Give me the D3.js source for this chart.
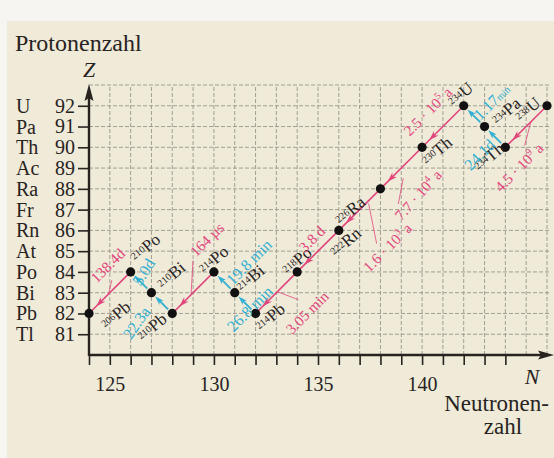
<!DOCTYPE html>
<html>
<head>
<meta charset="utf-8">
<script src="https://cdn.jsdelivr.net/npm/d3@7"></script>
<style>
body { margin: 0; background: #f6f5f1; }
svg { display: block; font-family: "Liberation Serif", "DejaVu Serif", serif; }
</style>
</head>
<body>
<svg id="chart"></svg>
<script>
var width = 554;
var height = 458;

// axis labels
var elementSymbols = ["Tl", "Pb", "Bi", "Po", "At", "Rn", "Fr", "Ra", "Ac", "Th", "Pa", "U"];
var protonTicks = [81, 82, 83, 84, 85, 86, 87, 88, 89, 90, 91, 92];
var neutronTicks = [125, 130, 135, 140];

// Uranium-Radium series, in decay order
var nuclideSymbol = ["U", "Th", "Pa", "U", "Th", "Ra", "Rn", "Po", "Pb", "Bi", "Po", "Pb", "Bi", "Po", "Pb"];
var massNumber   = [238, 234, 234, 234, 230, 226, 222, 218, 214, 214, 214, 210, 210, 210, 206];
var protonNumber = [92, 90, 91, 92, 90, 88, 86, 84, 82, 83, 84, 82, 83, 84, 82];

// decay i goes from nuclide i to nuclide i+1
var decayMode = ["a", "b", "b", "a", "a", "a", "a", "a", "b", "b", "a", "b", "b", "a"];
var halfLife = ["4.5 · 10^9 a", "24.1d", "1.17|min", "2.5 · 10^5 a", "7.7 · 10^4 a", "1.6 · 10^3 a",
                "3.8 d", "3.05 min", "26.8 min", "19.8 min", "164 µs", "22.3a", "5.0d", "138.4d"];

// label placement (pixels, relative to the anchor)
var nuclideLabelOffset = [[-19, 4], [-16, 10], [22, -15], [-3, -11], [15, 4], [-30, 22], [7, 12], [0, -11],
                          [15, 4], [16, -14], [0, -12], [-20, 14], [20, -17], [15, -24], [27, 2]];
var decayLabelLayout = [[-7, 41, -45], [-15, 18, -45], [18, -14, -45], [-15, -15, -45], [17, 27, -48],
                        [28, 38, -45], [-6, -12, -45], [31, 20, -45], [5, 6, -45], [25, -20, -45],
                        [14, -53, -45], [-25, 20, -55], [3, -10, -58], [-2, -27, -45]];
var decayLeader = [[4.5, -4, -1.5, 19], null, null, null, [2, 10, -3, 36], [9, -6, 17, 34], null,
                   [1, -1, 22, 7], null, null, [0, -32, -2, 1], null, null, [2, -12.5, -1, 0]];

var pink = "#e2457c";
var cyan = "#32afd2";
var ink = "#28231f";

var svg = d3.select("#chart")
	.attr("width", width)
	.attr("height", height);

svg.append("rect")
	.attr("x", 7).attr("y", 21)
	.attr("width", width - 7).attr("height", height - 21)
	.attr("fill", "#efebd8");

var xScale = d3.scaleLinear()
	.domain([124, 146])
	.range([89, 547]);
var yScale = d3.scaleLinear()
	.domain([80, 93])
	.range([355, 85]);

// dashed grid
var grid = svg.append("g")
	.attr("stroke", "#9a968b")
	.attr("stroke-width", 0.9)
	.attr("stroke-dasharray", "4,2");
grid.selectAll("line.v")
	.data(d3.range(125, 147))
	.enter().append("line")
		.attr("class", "v")
		.attr("x1", d => xScale(d)).attr("x2", d => xScale(d))
		.attr("y1", yScale(80)).attr("y2", yScale(93));
grid.selectAll("line.h")
	.data(d3.range(81, 94))
	.enter().append("line")
		.attr("class", "h")
		.attr("x1", xScale(124)).attr("x2", xScale(146) + 2)
		.attr("y1", d => yScale(d)).attr("y2", d => yScale(d));

// axes
var xAxis = d3.axisBottom(xScale)
	.tickValues(d3.range(124, 145))
	.tickSize(10)
	.tickPadding(12)
	.tickFormat(d => neutronTicks.indexOf(d) >= 0 ? d : "");
var yAxis = d3.axisLeft(yScale)
	.tickValues(protonTicks)
	.tickSize(11)
	.tickPadding(3);

var gx = svg.append("g")
	.attr("transform", "translate(0," + yScale(80) + ")")
	.call(xAxis);
var gy = svg.append("g")
	.attr("transform", "translate(" + xScale(124) + ",0)")
	.call(yAxis);
[gx, gy].forEach(function(g) {
	g.select(".domain").remove();
	g.selectAll(".tick line").attr("stroke", ink).attr("stroke-width", 1.6);
	g.selectAll(".tick text")
		.attr("fill", ink)
		.style("font-family", "Liberation Serif")
		.style("font-size", "20px");
});

svg.selectAll("text.elem")
	.data(protonTicks)
	.enter().append("text")
		.attr("class", "elem")
		.attr("x", 16)
		.attr("y", d => yScale(d))
		.attr("dy", "0.35em")
		.attr("fill", ink)
		.style("font-size", "20px")
		.text((d, i) => elementSymbols[i]);

// axis lines with arrow heads
svg.append("line")
	.attr("x1", xScale(124)).attr("x2", 545)
	.attr("y1", yScale(80)).attr("y2", yScale(80))
	.attr("stroke", ink).attr("stroke-width", 2.4);
svg.append("path")
	.attr("d", "M554," + yScale(80) + "L538," + (yScale(80) - 4.5) + "L541," + yScale(80) + "L538," + (yScale(80) + 4.5) + "Z")
	.attr("fill", ink);
svg.append("line")
	.attr("x1", xScale(124)).attr("x2", xScale(124))
	.attr("y1", yScale(80) + 1).attr("y2", 95)
	.attr("stroke", ink).attr("stroke-width", 2.4);
svg.append("path")
	.attr("d", "M" + xScale(124) + ",84L" + (xScale(124) - 4.5) + ",101L" + xScale(124) + ",98L" + (xScale(124) + 4.5) + ",101Z")
	.attr("fill", ink);

svg.append("text")
	.attr("x", 15).attr("y", 51)
	.attr("fill", ink)
	.style("font-size", "24px")
	.text("Protonenzahl");
svg.append("text")
	.attr("x", xScale(124)).attr("y", 77)
	.attr("text-anchor", "middle")
	.attr("fill", ink)
	.style("font-size", "22px").style("font-style", "italic")
	.text("Z");
svg.append("text")
	.attr("x", 532).attr("y", 384)
	.attr("text-anchor", "middle")
	.attr("fill", ink)
	.style("font-size", "22px").style("font-style", "italic")
	.text("N");
svg.append("text")
	.attr("x", 549).attr("y", 411)
	.attr("text-anchor", "end")
	.attr("fill", ink)
	.style("font-size", "23px")
	.text("Neutronen-");
svg.append("text")
	.attr("x", 503).attr("y", 434)
	.attr("text-anchor", "middle")
	.attr("fill", ink)
	.style("font-size", "23px")
	.text("zahl");

// nuclide positions
var nuclides = nuclideSymbol.map(function(s, i) {
	return {
		sym: s,
		A: massNumber[i],
		Z: protonNumber[i],
		N: massNumber[i] - protonNumber[i],
		x: xScale(massNumber[i] - protonNumber[i]),
		y: yScale(protonNumber[i]),
		i: i
	};
});

var decays = decayMode.map(function(m, i) {
	return { mode: m, from: nuclides[i], to: nuclides[i + 1], t: halfLife[i], i: i };
});

function head(g, tx, ty, ux, uy, len, w, color) {
	var bx = tx - ux * len, by = ty - uy * len;
	g.append("path")
		.attr("d", "M" + tx + "," + ty +
			"L" + (bx - uy * w) + "," + (by + ux * w) +
			"L" + (tx - ux * len * 0.7) + "," + (ty - uy * len * 0.7) +
			"L" + (bx + uy * w) + "," + (by - ux * w) + "Z")
		.attr("fill", color);
}

var marks = svg.append("g");
decays.forEach(function(d) {
	var dx = d.to.x - d.from.x, dy = d.to.y - d.from.y;
	var len = Math.sqrt(dx * dx + dy * dy);
	var ux = dx / len, uy = dy / len;
	if (d.mode === "a") {
		marks.append("line")
			.attr("x1", d.from.x).attr("y1", d.from.y)
			.attr("x2", d.to.x).attr("y2", d.to.y)
			.attr("stroke", pink).attr("stroke-width", 1.6);
		head(marks, d.to.x - ux * 10, d.to.y - uy * 10, ux, uy, 10, 3.2, pink);
	} else {
		var sx = d.from.x + dx * 0.2, sy = d.from.y + dy * 0.2;
		var ex = d.from.x + dx * 0.82, ey = d.from.y + dy * 0.82;
		marks.append("line")
			.attr("x1", sx).attr("y1", sy)
			.attr("x2", ex - ux * 4).attr("y2", ey - uy * 4)
			.attr("stroke", cyan).attr("stroke-width", 1.8);
		head(marks, ex, ey, ux, uy, 9, 3, cyan);
	}
	var lead = decayLeader[d.i];
	if (lead) {
		var mx = (d.from.x + d.to.x) / 2, my = (d.from.y + d.to.y) / 2;
		marks.append("line")
			.attr("x1", mx + lead[0]).attr("y1", my + lead[1])
			.attr("x2", mx + lead[2]).attr("y2", my + lead[3])
			.attr("stroke", pink).attr("stroke-width", 0.8);
	}
});

svg.selectAll("circle.nuc")
	.data(nuclides)
	.enter().append("circle")
		.attr("class", "nuc")
		.attr("cx", d => d.x)
		.attr("cy", d => d.y)
		.attr("r", 4.6)
		.attr("fill", "#111");

// nuclide labels, slanted
var nucLabels = svg.selectAll("g.nuclabel")
	.data(nuclides)
	.enter().append("g")
		.attr("class", "nuclabel")
		.attr("transform", d => "translate(" + (d.x + nuclideLabelOffset[d.i][0]) + "," + (d.y + nuclideLabelOffset[d.i][1]) + ") rotate(-40)");
nucLabels.append("text")
	.attr("text-anchor", "middle")
	.attr("y", 6)
	.attr("fill", ink)
	.each(function(d) {
		var t = d3.select(this);
		t.append("tspan").style("font-size", "10px").attr("dy", "-4").text(d.A);
		t.append("tspan").style("font-size", "17px").attr("dy", "3").text(d.sym);
	});

// half-life labels
var decLabels = svg.selectAll("g.declabel")
	.data(decays)
	.enter().append("g")
		.attr("class", "declabel")
		.attr("transform", function(d) {
			var l = decayLabelLayout[d.i];
			var mx = (d.from.x + d.to.x) / 2 + l[0], my = (d.from.y + d.to.y) / 2 + l[1];
			return "translate(" + mx + "," + my + ") rotate(" + l[2] + ")";
		});
decLabels.append("text")
	.attr("text-anchor", "middle")
	.attr("y", 5)
	.attr("fill", d => d.mode === "a" ? pink : cyan)
	.style("font-size", d => d.mode === "a" ? "15px" : "16px")
	.each(function(d) {
		var t = d3.select(this);
		if (d.t.indexOf("|") >= 0) {
			var p = d.t.split("|");
			t.append("tspan").text(p[0]);
			t.append("tspan").style("font-size", "10px").text(p[1]);
			return;
		}
		var parts = d.t.split(/\^(\d)/);
		parts.forEach(function(s, k) {
			if (k % 2 === 1) {
				t.append("tspan").style("font-size", "10px").attr("dy", "-6").text(s);
			} else if (s.length) {
				t.append("tspan").attr("dy", k > 0 ? "6" : null).text(s);
			}
		});
	});
</script>
</body>
</html>
